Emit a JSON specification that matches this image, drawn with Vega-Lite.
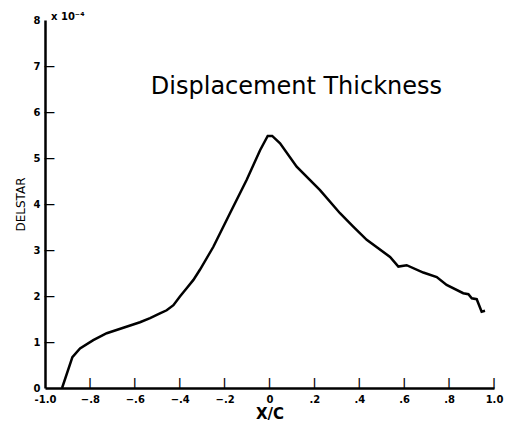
{
  "$schema": "https://vega.github.io/schema/vega-lite/v6.json",
  "width": 449,
  "height": 368,
  "autosize": "none",
  "padding": {"left": 45, "top": 20, "right": 12, "bottom": 44},
  "background": "white",
  "config": {"view": {"stroke": null}},
  "layer": [
    {
      "data": {"values": [
        {"x": -0.924, "y": 0.0},
        {"x": -0.878, "y": 0.67},
        {"x": -0.844, "y": 0.86},
        {"x": -0.785, "y": 1.04},
        {"x": -0.725, "y": 1.19},
        {"x": -0.651, "y": 1.31},
        {"x": -0.577, "y": 1.43},
        {"x": -0.532, "y": 1.52},
        {"x": -0.488, "y": 1.62},
        {"x": -0.458, "y": 1.69},
        {"x": -0.428, "y": 1.80},
        {"x": -0.399, "y": 1.99},
        {"x": -0.369, "y": 2.17},
        {"x": -0.339, "y": 2.35},
        {"x": -0.310, "y": 2.57},
        {"x": -0.250, "y": 3.07},
        {"x": -0.176, "y": 3.80},
        {"x": -0.102, "y": 4.52},
        {"x": -0.042, "y": 5.17},
        {"x": -0.008, "y": 5.48},
        {"x": 0.012, "y": 5.48},
        {"x": 0.047, "y": 5.32},
        {"x": 0.121, "y": 4.81},
        {"x": 0.225, "y": 4.30},
        {"x": 0.314, "y": 3.80},
        {"x": 0.373, "y": 3.51},
        {"x": 0.433, "y": 3.22},
        {"x": 0.537, "y": 2.85},
        {"x": 0.574, "y": 2.64},
        {"x": 0.611, "y": 2.67},
        {"x": 0.685, "y": 2.51},
        {"x": 0.745, "y": 2.41},
        {"x": 0.789, "y": 2.24},
        {"x": 0.863, "y": 2.06},
        {"x": 0.886, "y": 2.04},
        {"x": 0.901, "y": 1.95},
        {"x": 0.923, "y": 1.93},
        {"x": 0.945, "y": 1.66},
        {"x": 0.960, "y": 1.68}
      ]},
      "mark": {"type": "line", "color": "black", "strokeWidth": 2.5},
      "encoding": {
        "x": {
          "field": "x", "type": "quantitative",
          "scale": {"domain": [-1, 1], "nice": false, "zero": false},
          "axis": {
            "title": "X/C",
            "values": [-1, -0.8, -0.6, -0.4, -0.2, 0, 0.2, 0.4, 0.6, 0.8, 1],
            "labelExpr": "datum.value == -1 ? '-1.0' : datum.value == 1 ? '1.0' : datum.value == 0 ? '0' : replace(format(datum.value, '.1f'), '0.', '.')",
            "grid": false,
            "domainColor": "black", "domainWidth": 2.5,
            "ticks": false,
            "labelPadding": 6, "labelFont": "DejaVu Sans", "labelFontWeight": "bold", "labelFontSize": 10, "labelColor": "black",
            "labelFlush": false, "labelBound": false, "labelOverlap": false,
            "titleFont": "DejaVu Sans", "titleFontWeight": "bold", "titleFontSize": 15, "titleColor": "black", "titlePadding": 2
          }
        },
        "y": {
          "field": "y", "type": "quantitative",
          "scale": {"domain": [0, 8], "nice": false},
          "axis": {
            "title": "DELSTAR",
            "values": [0, 1, 2, 3, 4, 5, 6, 7, 8],
            "grid": false,
            "domainColor": "black", "domainWidth": 2.5,
            "ticks": false,
            "labelPadding": 5, "labelFont": "DejaVu Sans", "labelFontWeight": "bold", "labelFontSize": 10, "labelColor": "black",
            "labelFlush": false, "labelBound": false, "labelOverlap": false,
            "titleFont": "DejaVu Sans", "titleFontWeight": "normal", "titleFontSize": 12, "titleColor": "black", "titlePadding": 6
          }
        }
      }
    },
    {
      "data": {"values": [{"v": -0.8, "t": "|"}, {"v": -0.6, "t": "|"}, {"v": -0.4, "t": "|"}, {"v": -0.2, "t": "|"}, {"v": 0, "t": "|"}, {"v": 0.2, "t": "|"}, {"v": 0.4, "t": "|"}, {"v": 0.6, "t": "|"}, {"v": 0.8, "t": "|"}, {"v": 1.0, "t": "|"}]},
      "mark": {"type": "text", "align": "center", "baseline": "alphabetic", "dy": -2, "font": "DejaVu Sans", "fontSize": 11, "fontWeight": "bold", "color": "black"},
      "encoding": {
        "x": {"field": "v", "type": "quantitative"},
        "y": {"datum": 0},
        "text": {"field": "t"}
      }
    },
    {
      "data": {"values": [{"v": 1, "t": "\u2014"}, {"v": 2, "t": "\u2014"}, {"v": 3, "t": "\u2014"}, {"v": 4, "t": "\u2014"}, {"v": 5, "t": "\u2014"}, {"v": 6, "t": "\u2014"}, {"v": 7, "t": "\u2014"}]},
      "mark": {"type": "text", "align": "left", "baseline": "middle", "dx": -1, "dy": 1, "font": "DejaVu Sans", "fontSize": 11, "fontWeight": "bold", "color": "black"},
      "encoding": {
        "y": {"field": "v", "type": "quantitative"},
        "x": {"datum": -1},
        "text": {"field": "t"}
      }
    },
    {
      "data": {"values": [{"x": -1.0, "y": 8, "t": "x 10\u207b\u2074"}]},
      "mark": {"type": "text", "align": "left", "baseline": "middle", "dx": 6, "dy": -3, "font": "DejaVu Sans", "fontSize": 10, "fontWeight": "bold", "color": "black"},
      "encoding": {
        "x": {"field": "x", "type": "quantitative"},
        "y": {"field": "y", "type": "quantitative"},
        "text": {"field": "t"}
      }
    },
    {
      "data": {"values": [{"x": 0.12, "y": 6.54, "t": "Displacement Thickness"}]},
      "mark": {"type": "text", "align": "center", "baseline": "middle", "font": "DejaVu Sans", "fontSize": 24, "color": "black"},
      "encoding": {
        "x": {"field": "x", "type": "quantitative"},
        "y": {"field": "y", "type": "quantitative"},
        "text": {"field": "t"}
      }
    }
  ]
}
